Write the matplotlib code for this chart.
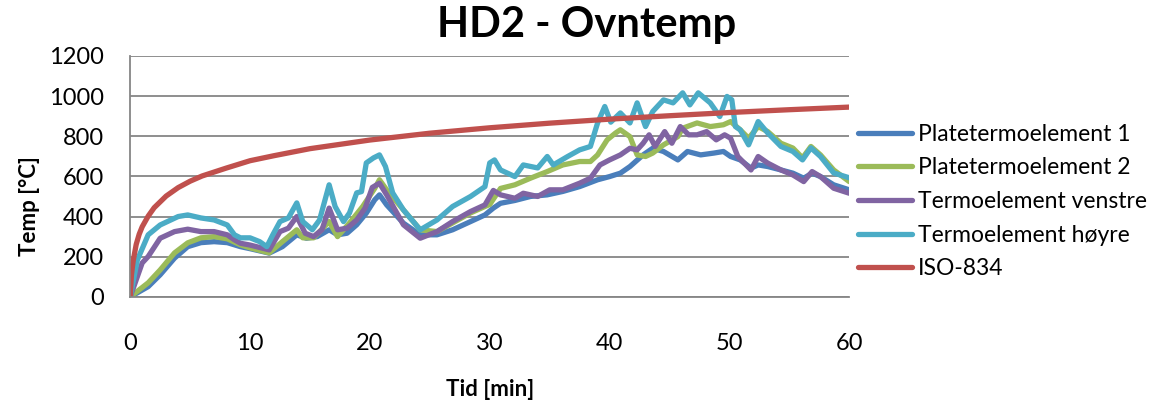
import numpy as np
import matplotlib
matplotlib.use('Agg')
import matplotlib.pyplot as plt

plt.rcParams['font.family'] = ['Lato', 'DejaVu Sans']

# series (time [min], temp [C])
t_plate1 = [0, 1.5, 2.5, 3.7, 4.8, 5.9, 7, 8.1, 9.2, 10, 11.6, 12.7, 13.9, 14.7, 15.6, 16.6, 17.3, 18.1,
            18.9, 19.7, 20.4, 20.8, 21.4, 22.8, 24.2, 25.6, 26.9, 28.4, 29.6, 30.3, 30.9, 32.1, 33.4,
            34.8, 36.1, 37.5, 39.0, 40, 40.9, 41.7, 42.8, 43.6, 44.5, 45.7, 46.5, 47.6, 48.7, 49.5,
            50.1, 50.9, 51.8, 52.4, 53.2, 54.3, 55.3, 56.2, 56.9, 57.6, 58.7, 60]
T_plate1 = [0, 51, 110, 193, 250, 270, 275, 270, 250, 240, 218, 250, 309, 292, 300, 334, 309, 317,
            359, 417, 483, 508, 458, 367, 309, 309, 334, 375, 408, 442, 466, 480, 500,
            508, 525, 549, 583, 599, 616, 649, 707, 740, 724, 682, 724, 707, 716, 724,
            699, 682, 641, 657, 649, 632, 616, 591, 616, 599, 558, 533]

t_plate2 = [0, 1.5, 2.5, 3.7, 4.8, 5.9, 7, 8.1, 9.2, 10, 11.6, 12.7, 13.9, 14.4, 15.3, 16.6, 17.3,
            18.3, 19.4, 20.4, 20.8, 21.4, 22.8, 24.2, 25.6, 26.9, 28.4, 29.6, 30, 30.9, 32.1, 33.4,
            34.8, 36.1, 37.5, 38.4, 39.0, 39.8, 40.5, 40.9, 41.7, 42.3, 43, 43.6, 44.5, 45.7, 46.1,
            47.3, 48.4, 49.5, 50.1, 50.9, 51.6, 52.4, 53.2, 54.3, 55.3, 56.1, 56.8, 57.6, 58.7, 60]
T_plate2 = [0, 70, 134, 219, 269, 294, 300, 289, 259, 244, 219, 275, 334, 294, 294, 375, 300,
            368, 450, 540, 583, 533, 433, 334, 325, 368, 418, 450, 460, 540, 558, 591,
            624, 657, 674, 674, 707, 782, 816, 832, 798, 707, 699, 716, 757, 798, 840,
            866, 848, 857, 873, 832, 790, 848, 823, 765, 741, 692, 749, 707, 632, 574]

t_venstre = [0, 1, 1.5, 2.5, 3.7, 4.8, 5.9, 7, 8.1, 8.7, 9.2, 10, 11.6, 12.5, 13.2, 13.9, 14.6, 15.3,
             16, 16.6, 17.3, 18.1, 18.9, 19.6, 20.2, 20.8, 21.4, 22.8, 24.2, 25.6, 26.9, 28.4, 29.6,
             30.3, 30.9, 32.1, 32.8, 34, 35, 36.1, 37.5, 38.4, 39.2, 40, 40.9, 41.7, 42.3, 42.8,
             43.3, 43.8, 44.6, 45.2, 45.9, 46.6, 47.3, 48.1, 48.9, 49.6, 50.1, 50.7, 51.8, 52.4,
             53.2, 54.3, 55.3, 56.2, 56.9, 57.6, 58.7, 60]
T_venstre = [0, 169, 201, 292, 325, 337, 325, 325, 309, 284, 267, 258, 234, 325, 342, 400, 317, 300,
             334, 442, 334, 342, 383, 442, 545, 566, 508, 359, 292, 325, 375, 425, 458,
             530, 508, 491, 516, 500, 533, 533, 566, 591, 657, 682, 707, 740, 732, 765,
             807, 749, 823, 765, 848, 807, 807, 823, 782, 807, 790, 699, 632, 699,
             666, 632, 607, 574, 624, 599, 541, 516]

t_hoyre = [0, 0.6, 1.5, 2.5, 4, 4.8, 5.9, 7, 8.1, 8.7, 9.2, 10, 10.8, 11.4, 11.9, 12.5, 13.2, 13.9,
           14.4, 15.2, 15.8, 16.6, 17.1, 17.8, 18.3, 18.9, 19.3, 19.7, 20.3, 20.8, 21.3, 21.9, 22.8,
           24.2, 25.6, 26.9, 28.4, 29.6, 30, 30.4, 30.9, 32.1, 32.8, 34, 34.8, 35.3, 36.5, 37.5,
           38.4, 39.0, 39.6, 40.1, 40.9, 41.7, 42.3, 43, 43.6, 44.5, 45.3, 46.1, 46.7, 47.4, 48.4,
           49.2, 49.8, 50.2, 50.5, 50.9, 51.6, 52.4, 53.2, 54.3, 55.3, 56.1, 56.8, 57.6, 58.7, 60]
T_hoyre = [0, 184, 309, 358, 400, 408, 393, 383, 358, 309, 294, 294, 275, 250, 309, 375, 393, 468,
           375, 334, 383, 558, 450, 375, 418, 518, 524, 667, 692, 707, 649, 518, 433,
           334, 383, 450, 500, 549, 667, 682, 632, 599, 657, 642, 699, 657, 699, 732,
           749, 866, 948, 870, 916, 866, 966, 848, 923, 981, 966, 1016, 956, 1016, 966,
           898, 998, 981, 848, 832, 757, 873, 816, 749, 724, 682, 742, 699, 617, 593]

t_iso = [0, 0.1, 0.25, 0.5, 0.75, 1, 1.5, 2, 3, 4, 5, 6, 8, 10, 12, 15, 20, 25, 30, 35, 40, 45, 50, 55, 60]
T_iso = [0, 108, 180, 261, 312, 349, 402, 444, 502, 544, 576, 602, 641, 678, 703, 738, 781, 815,
         842, 865, 885, 902, 918, 932, 945]

series = [
    ('Platetermoelement 1', t_plate1, T_plate1, '#4A7EBB'),
    ('Platetermoelement 2', t_plate2, T_plate2, '#9BBB59'),
    ('Termoelement venstre', t_venstre, T_venstre, '#8064A2'),
    ('Termoelement høyre', t_hoyre, T_hoyre, '#4BACC6'),
    ('ISO-834', t_iso, T_iso, '#C0504D'),
]

fig = plt.figure(figsize=(11.73, 4.05), dpi=100)
ax = fig.add_axes([0.111, 0.267, 0.613, 0.595])

for name, t, T, c in series:
    ax.plot(t, T, color=c, lw=3.8, label=name, solid_capstyle='round', solid_joinstyle='round')

ax.set_xlim(0, 60)
ax.set_ylim(0, 1200)
ax.set_xticks(np.arange(0, 61, 10))
ax.set_yticks(np.arange(0, 1201, 200))
ax.grid(axis='y', color='#868686', lw=1.3)
ax.set_axisbelow(True)
for s in ['top', 'right']:
    ax.spines[s].set_visible(False)
for s in ['left', 'bottom']:
    ax.spines[s].set_color('#868686')
    ax.spines[s].set_linewidth(1.3)
ax.tick_params(axis='both', length=0, labelsize=17)
ax.tick_params(axis='x', pad=26)
ax.tick_params(axis='y', pad=19)

ax.set_xlabel('Tid [min]', fontsize=16, fontweight='bold')
ax.set_ylabel('Temp [°C]', fontsize=16, fontweight='bold')
ax.xaxis.set_label_coords(0.5, -0.34)
ax.yaxis.set_label_coords(-0.125, 0.378)
fig.suptitle('HD2 - Ovntemp', x=0.5, y=0.985, fontsize=30, fontweight='bold')

leg = ax.legend(loc='upper left', bbox_to_anchor=(0.99, 0.785), frameon=False, fontsize=16.5,
                handlelength=2.35, handletextpad=0.27, labelspacing=0.55, borderaxespad=0.3)

fig.savefig('out.png', dpi=100)
